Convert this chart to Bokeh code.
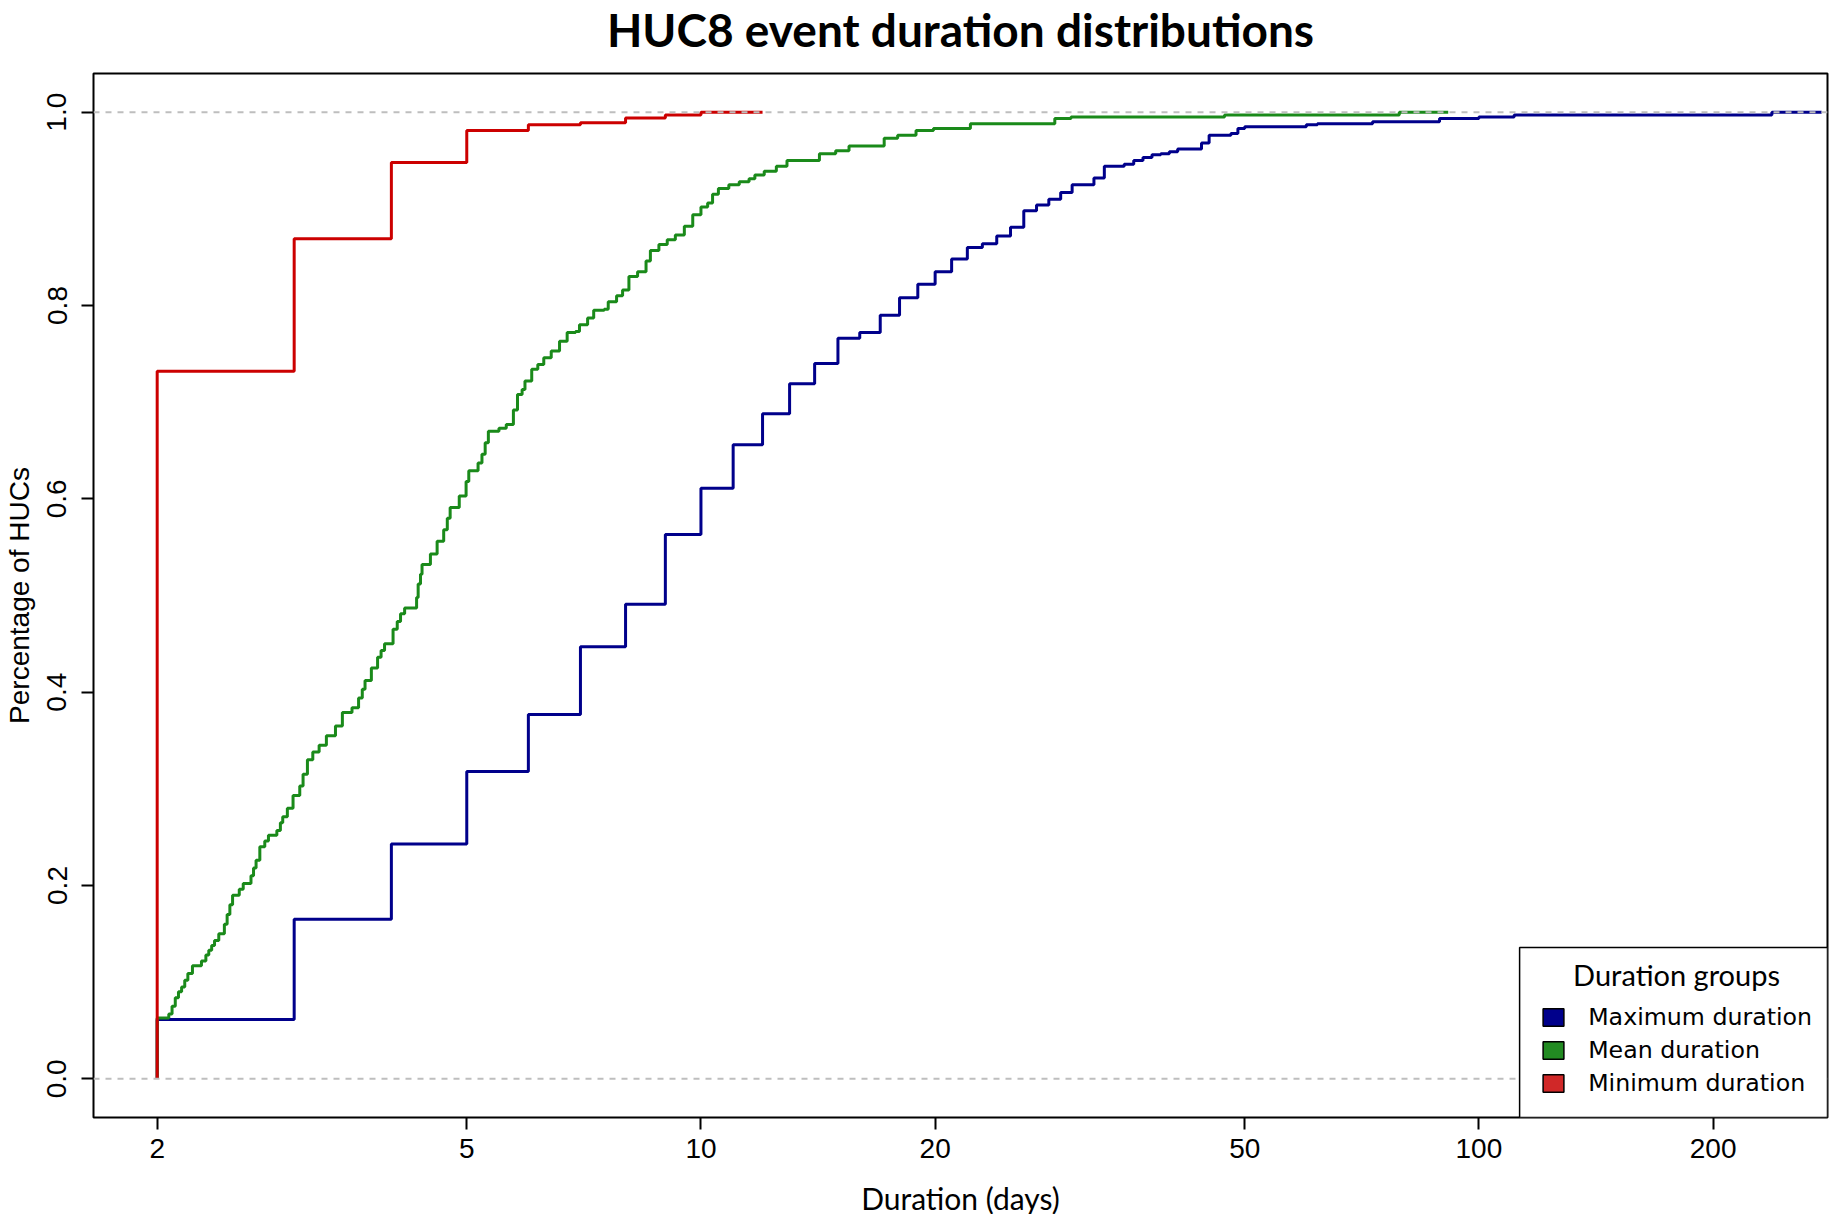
import numpy as np
from bokeh.plotting import figure
from bokeh.models import (FixedTicker, NumeralTickFormatter, Span, BoxAnnotation,
                          Label, Legend, LegendItem, Range1d, Title)
from bokeh.embed import file_html
from bokeh.resources import INLINE

# ---------------- data ----------------
series_names = ["Maximum duration", "Mean duration", "Minimum duration"]

max_days = [2, 3, 4, 5, 6, 7, 8, 9, 10, 11, 12, 13, 14, 15, 16, 17, 18, 19, 20,
            21, 22, 23, 24, 25, 26, 27, 28, 29, 30, 32, 33, 35, 36, 37, 38, 39,
            40, 41, 44, 45, 48, 49, 50, 60, 62, 73, 89, 100, 111, 238]
max_cdf = [0.0615, 0.165, 0.243, 0.318, 0.377, 0.447, 0.491, 0.563, 0.611, 0.656,
           0.688, 0.719, 0.740, 0.766, 0.772, 0.790, 0.808, 0.822, 0.835, 0.848,
           0.860, 0.864, 0.872, 0.881, 0.898, 0.904, 0.910, 0.917, 0.925, 0.932,
           0.944, 0.946, 0.950, 0.953, 0.956, 0.957, 0.959, 0.962, 0.968, 0.976,
           0.978, 0.983, 0.985, 0.987, 0.988, 0.990, 0.9935, 0.995, 0.997, 1.000]

mean_days = [2.00, 2.07, 2.09, 2.11, 2.13, 2.15, 2.17, 2.19, 2.22, 2.28, 2.31, 2.33,
             2.35, 2.37, 2.40, 2.44, 2.46, 2.48, 2.50, 2.55, 2.58, 2.64, 2.66, 2.68,
             2.71, 2.75, 2.78, 2.85, 2.88, 2.90, 2.94, 2.99, 3.05, 3.08, 3.12, 3.17,
             3.23, 3.30, 3.39, 3.46, 3.56, 3.63, 3.67, 3.70, 3.77, 3.84, 3.88, 3.92,
             4.02, 4.07, 4.11, 4.16, 4.31, 4.33, 4.36, 4.38, 4.49, 4.58, 4.67, 4.72,
             4.76, 4.89, 4.99, 5.03, 5.17, 5.23, 5.28, 5.33, 5.50, 5.62, 5.74, 5.81,
             5.89, 5.94, 6.06, 6.17, 6.28, 6.42, 6.58, 6.73, 6.90, 6.98, 7.15, 7.28,
             7.51, 7.60, 7.79, 7.93, 8.08, 8.29, 8.50, 8.61, 8.83, 9.05, 9.27, 9.52,
             9.76, 10.0, 10.2, 10.35, 10.53, 10.86, 11.2, 11.53, 11.73, 12.06, 12.5,
             12.9, 14.2, 14.9, 15.5, 17.2, 17.9, 18.9, 19.9, 22.2, 28.5, 29.9, 47.1,
             79.0]
mean_cdf = [0.063, 0.067, 0.075, 0.084, 0.090, 0.095, 0.102, 0.109, 0.117, 0.122,
            0.128, 0.133, 0.138, 0.143, 0.150, 0.160, 0.170, 0.180, 0.190, 0.196,
            0.202, 0.210, 0.218, 0.226, 0.240, 0.246, 0.252, 0.257, 0.265, 0.271,
            0.280, 0.293, 0.303, 0.315, 0.330, 0.338, 0.345, 0.355, 0.365, 0.379,
            0.384, 0.394, 0.403, 0.412, 0.425, 0.436, 0.443, 0.450, 0.465, 0.473,
            0.481, 0.487, 0.498, 0.512, 0.522, 0.532, 0.543, 0.556, 0.568, 0.580,
            0.591, 0.603, 0.618, 0.629, 0.637, 0.646, 0.658, 0.670, 0.673, 0.677,
            0.692, 0.708, 0.713, 0.722, 0.734, 0.739, 0.746, 0.753, 0.763, 0.772,
            0.773, 0.780, 0.787, 0.795, 0.796, 0.804, 0.810, 0.816, 0.830, 0.835,
            0.846, 0.857, 0.863, 0.868, 0.873, 0.882, 0.894, 0.902, 0.906, 0.915,
            0.921, 0.925, 0.928, 0.931, 0.935, 0.939, 0.944, 0.950, 0.957, 0.960,
            0.965, 0.973, 0.976, 0.981, 0.983, 0.988, 0.9935, 0.995, 0.997, 1.000]

min_days = [2, 3, 4, 5, 6, 7, 8, 9, 10]
min_cdf = [0.732, 0.869, 0.948, 0.981, 0.987, 0.989, 0.994, 0.997, 1.000]

x_ticks = [2, 5, 10, 20, 50, 100, 200]
y_ticks = [0.0, 0.2, 0.4, 0.6, 0.8, 1.0]

line_colors = ["#00008B", "#1A8A1A", "#CC0000"]
swatch_colors = ["#00008B", "#228B22", "#D02828"]

# ---------------- figure ----------------
X_START, X_END = 1.6564, 280.6
Y_START, Y_END = -0.04, 1.04

p = figure(x_axis_type="log",
           x_range=Range1d(X_START, X_END), y_range=Range1d(Y_START, Y_END),
           frame_width=1734, frame_height=1044,
           min_border_left=93, min_border_right=2, min_border_top=73, min_border_bottom=97,
           output_backend="svg", toolbar_location=None,
           title="HUC8 event duration distributions",
           background_fill_color="white", border_fill_color="white")

p.title.align = "center"
p.title.vertical_align = "top"
p.title.standoff = 0
p.title.text_font = "Lato"
p.title.text_font_style = "bold"
p.title.text_font_size = "46px"
p.title.text_color = "black"
# blank spacer between the frame and the title (keeps the title at the top edge)
p.add_layout(Title(text=" ", text_font="Lato", text_font_size="11.5px", standoff=0), "above")

p.xgrid.visible = False
p.ygrid.visible = False
p.outline_line_color = "black"
p.outline_line_width = 2


def ecdf_path(knots, cdf):
    """Step path as drawn by R's plot.ecdf: rise from 0 at the first knot,
    last level extended by 2*dr past the last knot."""
    k = np.asarray(knots, dtype=float)
    c = np.asarray(cdf, dtype=float)
    dr = max(0.08 * (k[-1] - k[0]), float(np.median(np.diff(k))))
    xs = np.concatenate([[k[0]], k, [k[-1] + 2 * dr]])
    ys = np.concatenate([[0.0], c, [c[-1]]])
    return xs, ys


for (days, cdf), col in zip([(max_days, max_cdf), (mean_days, mean_cdf), (min_days, min_cdf)],
                            line_colors):
    xs, ys = ecdf_path(days, cdf)
    p.step(xs, ys, mode="after", line_color=col, line_width=3)

# dashed reference lines at 0 and 1
for loc in (0.0, 1.0):
    p.add_layout(Span(location=loc, dimension="width", line_color="#BEBEBE",
                      line_dash="6 6", line_width=2))

# ---------------- axes ----------------
p.xaxis.ticker = FixedTicker(ticks=x_ticks)
p.xaxis.formatter = NumeralTickFormatter(format="0")
p.yaxis.ticker = FixedTicker(ticks=y_ticks)
p.yaxis.formatter = NumeralTickFormatter(format="0.0")
for ax in p.axis:
    ax.axis_line_color = None
    ax.major_tick_line_color = "black"
    ax.major_tick_line_width = 2
    ax.major_tick_out = 12
    ax.major_tick_in = 0
    ax.minor_tick_line_color = None
    ax.major_label_text_font = "Liberation Sans"
    ax.major_label_text_font_size = "28px"
    ax.major_label_text_color = "black"
    ax.axis_label_text_font_style = "normal"
    ax.axis_label_text_color = "black"

p.yaxis.major_label_orientation = "vertical"
p.yaxis.major_label_standoff = 15
p.yaxis.axis_label = "Percentage of HUCs"
p.yaxis.axis_label_text_font = "Liberation Sans"
p.yaxis.axis_label_text_font_size = "28px"
p.yaxis.axis_label_standoff = 10

p.xaxis.major_label_standoff = 9
p.xaxis.axis_label = "Duration (days)"
p.xaxis.axis_label_text_font = "Lato"
p.xaxis.axis_label_text_font_size = "30px"
p.xaxis.axis_label_standoff = 19

# ---------------- legend ----------------
nan = float("nan")
swatches = [p.quad(left=[nan], right=[nan], top=[nan], bottom=[nan], fill_color=c,
                   line_color="black", line_width=1.5) for c in swatch_colors]

legend_box = BoxAnnotation(left=112.8, top=0.1359, fill_color="white", fill_alpha=1.0,
                           line_color="black", line_width=1.5, line_alpha=1.0)
p.add_layout(legend_box)

legend = Legend(items=[LegendItem(label=n, renderers=[r]) for n, r in zip(series_names, swatches)],
                location=(1447.2, 20.3), padding=10, spacing=5,
                label_height=28, glyph_width=26, glyph_height=22, label_standoff=22,
                border_line_color=None, background_fill_alpha=0.0,
                label_text_font="DejaVu Sans", label_text_font_size="23.7px",
                label_text_color="black")
p.add_layout(legend)

p.add_layout(Label(x=179.5, y=0.1079, text="Duration groups", text_font="Lato",
                   text_font_size="29px", text_align="center", text_baseline="alphabetic",
                   text_color="black"))

open("out.html", "w").write(file_html(p, INLINE))
